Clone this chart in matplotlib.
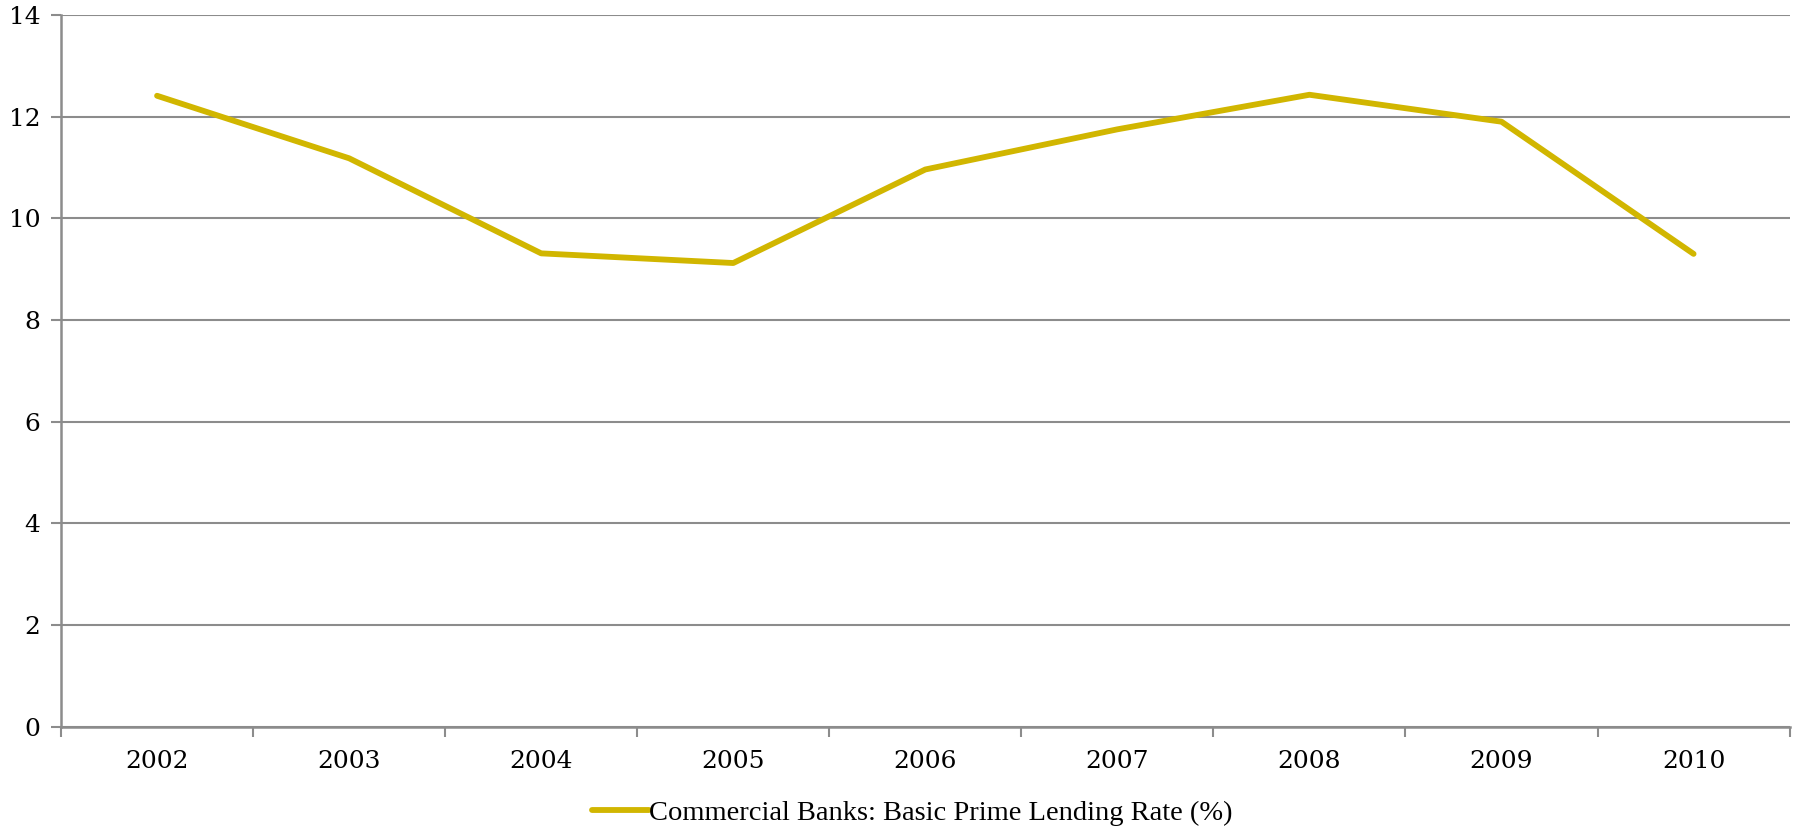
import matplotlib.pyplot as plt
import numpy as np

years = ['2002', '2003', '2004', '2005', '2006', '2007', '2008', '2009', '2010']
prime_rate = [12.41, 11.18, 9.31, 9.12, 10.96, 11.75, 12.43, 11.90, 9.30]
label = "Commercial Banks: Basic Prime Lending Rate (%)"

grey = '#8c8c8c'
gold = '#d1b600'

fig = plt.figure(figsize=(17.95, 8.3), dpi=100)
ax = fig.add_axes([0.034, 0.1245, 0.963, 0.8575])

x = np.arange(len(years)) + 0.5
ax.plot(x, prime_rate, color=gold, lw=4.2, solid_capstyle='round', label=label)

ax.set_xlim(0, len(years))
ax.set_ylim(0, 14)
ax.set_yticks(range(0, 15, 2))
ax.set_xticks(np.arange(len(years) + 1))
ax.set_xticks(x, minor=True)
ax.set_xticklabels([])
ax.set_xticklabels(years, minor=True)

ax.grid(axis='y', color=grey, lw=1.5)
ax.set_axisbelow(True)
for s in ['top', 'right']:
    ax.spines[s].set_visible(False)
for s in ['left', 'bottom']:
    ax.spines[s].set_color(grey)
    ax.spines[s].set_linewidth(1.8)

ax.tick_params(axis='y', which='major', length=7, width=1.5, color=grey, labelsize=18, pad=8)
ax.tick_params(axis='x', which='major', length=7, width=1.5, color=grey)
ax.tick_params(axis='x', which='minor', length=0, labelsize=18, pad=16.5)
for t in ax.get_yticklabels() + ax.get_xticklabels(minor=True):
    t.set_fontfamily('DejaVu Serif')

fig.legend(loc='center', bbox_to_anchor=(0.508, 0.021), frameon=False,
           prop={'family': 'Liberation Serif', 'size': 20.5}, handlelength=2.0,
           handletextpad=0.0, borderpad=0.1)

fig.savefig('out.png', dpi=100)
